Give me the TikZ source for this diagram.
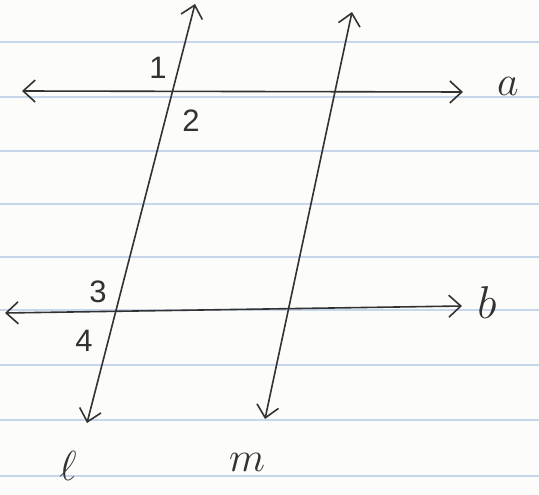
\RequirePackage{fix-cm}
\documentclass[tikz,border=0pt]{standalone}
\usepackage{fontspec}
\newfontfamily\digitfont{Liberation Sans}
\usetikzlibrary{arrows.meta}
\definecolor{pencil}{RGB}{50,50,50}
\definecolor{rulecol}{RGB}{200,214,236}
\definecolor{paper}{RGB}{252,252,250}
\begin{document}
\begin{tikzpicture}[x=1pt,y=-1pt,
  tip/.tip={Straight Barb[length=12pt,width=22pt,line width=1.6pt]},
  pen/.style={draw=pencil,line width=1.6pt,tip-tip},
  lab/.style={text=pencil,font=\digitfont\fontsize{31}{31}\selectfont,inner sep=0pt},
  letter/.style={text=pencil,font=\fontsize{42}{42}\selectfont,inner sep=0pt},
  ruling/.style={draw=rulecol,line width=1.4pt}]
\fill[paper] (0,0) rectangle (539,495);
\useasboundingbox (0,0) rectangle (539,495);
\foreach \y in {42,97,151,204,257,310,365,420,476}
  \draw[ruling] (0,\y) -- (539,\y);
% end points
\coordinate (lt) at (195,4);
\coordinate (lb) at (87,423);
\coordinate (mt) at (352,12);
\coordinate (mb) at (265,419);
\coordinate (al) at (22,91);
\coordinate (ar) at (463,92);
\coordinate (bl) at (5,313);
\coordinate (br) at (462,306);
% lines
\draw[pen] (al) -- (ar);
\draw[pen] (bl) -- (br);
\draw[pen] (lb) -- (lt);
\draw[pen] (mb) -- (mt);
% angle labels
\node[lab] (n1) at (158,68) {1};
\node[lab] (n2) at (191,121) {2};
\node[lab] (n3) at (98,292) {3};
\node[lab] (n4) at (84,341) {4};
% line labels
\node[letter] (la) at (508,86) {$a$};
\node[letter,font=\fontsize{46}{46}\selectfont] (lbb) at (487,303) {$b$};
\node[letter] (ll) at (68,466) {$\ell$};
\node[letter] (lm) at (247,462) {$m$};
\end{tikzpicture}
\end{document}
